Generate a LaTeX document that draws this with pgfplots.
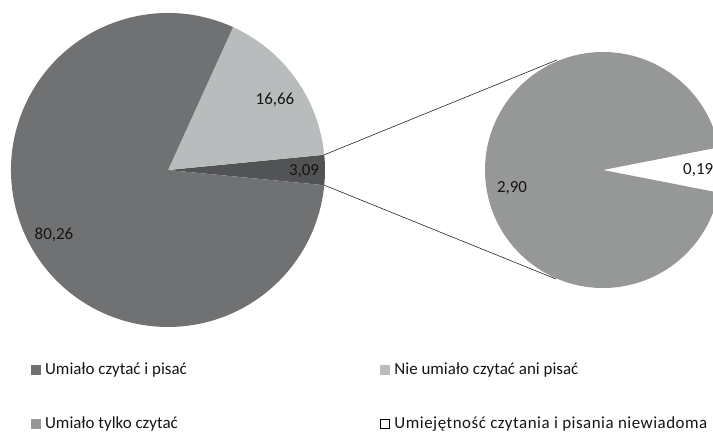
\documentclass[border=0pt]{standalone}
\usepackage{pgfplots}
\usepackage{pgfplotstable}
\pgfplotsset{compat=1.18}
\usepackage{fontspec}
\setmainfont{Carlito}
\definecolor{cA}{HTML}{6F7173}
\definecolor{cB}{HTML}{B9BCBC}
\definecolor{cC}{HTML}{525355}
\definecolor{cD}{HTML}{969898}
\definecolor{txt}{HTML}{141414}

% main pie
\pgfplotstableread{
label value
A 80.26
B 16.66
C 3.09
}\leftdata
% secondary pie (breakdown of C)
\pgfplotstableread{
label value
D 2.90
E 0.19
}\rightdata

\pgfplotstablegetelem{0}{value}\of\leftdata \let\vA\pgfplotsretval
\pgfplotstablegetelem{1}{value}\of\leftdata \let\vB\pgfplotsretval
\pgfplotstablegetelem{2}{value}\of\leftdata \let\vC\pgfplotsretval
\pgfplotstablegetelem{0}{value}\of\rightdata \let\vD\pgfplotsretval
\pgfplotstablegetelem{1}{value}\of\rightdata \let\vE\pgfplotsretval

\pgfmathsetmacro\tot{\vA+\vB+\vC}
\pgfmathsetmacro\halfC{\vC/\tot*180}
\pgfmathsetmacro\Bend{\halfC+\vB/\tot*360}
\pgfmathsetmacro\Aend{360-\halfC}
\pgfmathsetmacro\halfE{\vE/(\vD+\vE)*180}
\pgfmathsetmacro\Dend{360-\halfE}

\begin{document}
\fontsize{17}{20}\selectfont
\begin{tikzpicture}
\begin{axis}[
  width=713bp, height=431bp, scale only axis,
  xmin=0, xmax=713, ymin=0, ymax=431,
  hide axis,
  legend columns=2,
  legend cell align=left,
  legend image code/.code={\path[#1] (0bp,-4.5bp) rectangle (9bp,4.5bp);},
  legend style={draw=none, fill=none, font=\fontsize{17}{20}\selectfont\color{txt},
    at={(axis cs:31,70)}, anchor=north west, inner sep=0pt,
    nodes={inner sep=1.5bp},
    /tikz/every odd column/.append style={column sep=3bp},
    /tikz/every even column/.append style={column sep=192bp},
    /tikz/row sep=37bp},
]
\path (rel axis cs:0,0) rectangle (rel axis cs:1,1);
% left pie
\fill[cC] (axis cs:168,261) -- +(-\halfC:157bp) arc[start angle=-\halfC, end angle=\halfC, radius=157bp] -- cycle;
\fill[cB] (axis cs:168,261) -- +(\halfC:157bp) arc[start angle=\halfC, end angle=\Bend, radius=157bp] -- cycle;
\fill[cA] (axis cs:168,261) -- +(\Bend:157bp) arc[start angle=\Bend, end angle=\Aend, radius=157bp] -- cycle;
% right pie
\fill[cD] (axis cs:603,261) -- +(\halfE:118bp) arc[start angle=\halfE, end angle=\Dend, radius=118bp] -- cycle;
% connector lines
\addplot[black!85, line width=0.6bp, forget plot] coordinates {(324.3,276.2) (557,371)};
\addplot[black!85, line width=0.6bp, forget plot] coordinates {(324.3,245.8) (556,152)};
% labels
\node[txt] at (axis cs:275,331) {16,66};
\node[txt] at (axis cs:304,260) {3,09};
\node[txt] at (axis cs:54,196) {80,26};
\node[txt] at (axis cs:512,243) {2,90};
\node[txt, anchor=west, inner sep=0pt] at (axis cs:683,261) {0,19};
% legend
\addlegendimage{fill=cA, draw=cA}
\addlegendentry{Umiało czytać i pisać}
\addlegendimage{fill=cB, draw=cB}
\addlegendentry{Nie umiało czytać ani pisać}
\addlegendimage{fill=cD, draw=cD}
\addlegendentry{Umiało tylko czytać}
\addlegendimage{fill=white, draw=black, line width=0.6bp}
\addlegendentry{\addfontfeature{LetterSpace=3}Umiejętność czytania i pisania niewiadoma}
\end{axis}
\end{tikzpicture}
\end{document}
